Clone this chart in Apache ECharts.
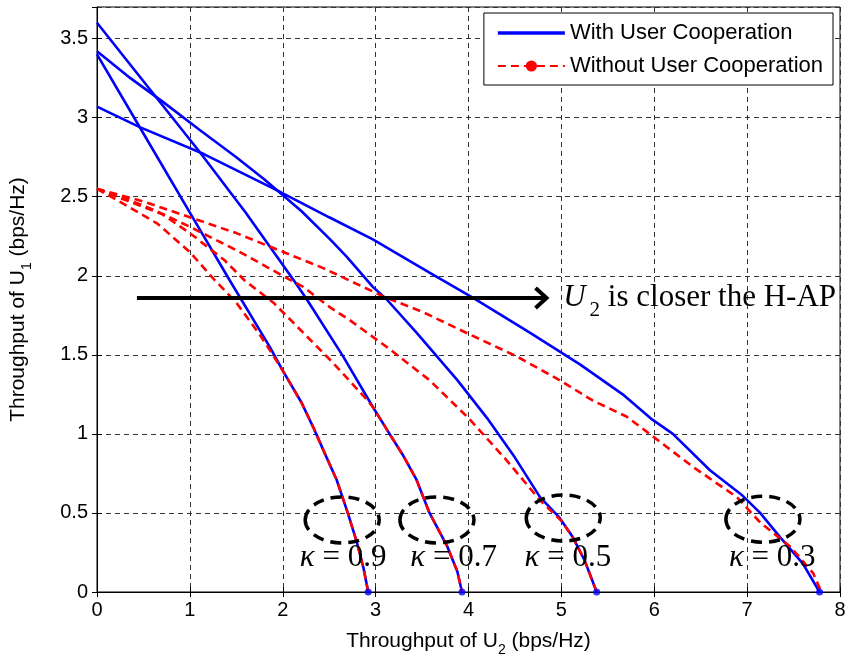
<!DOCTYPE html>
<html><head><meta charset="utf-8">
<script src="https://cdn.jsdelivr.net/npm/echarts@6/dist/echarts.min.js"></script>
<style>html,body{margin:0;padding:0;background:#fff}#c{width:847px;height:657px}</style>
</head><body><div id="c"></div>
<script>
// ---- data ----
const kappas = ['0.9', '0.7', '0.5', '0.3'];

const blue09x = [0, 0.5, 1, 1.43, 1.86, 2.0, 2.2, 2.33, 2.45, 2.58, 2.7, 2.8, 2.87, 2.92];
const blue09y = [3.4, 2.9, 2.4, 1.97, 1.55, 1.40, 1.2, 1.04, 0.88, 0.71, 0.5, 0.31, 0.15, 0];
const red09x  = [0, 0.3, 0.65, 1.0, 1.24, 1.5, 1.75, 1.86, 2.0, 2.2, 2.33, 2.45, 2.58, 2.7, 2.8, 2.87, 2.92];
const red09y  = [2.55, 2.45, 2.33, 2.15, 1.99, 1.83, 1.63, 1.53, 1.40, 1.2, 1.04, 0.88, 0.71, 0.5, 0.31, 0.15, 0];

const blue07x = [0, 0.5, 1.11, 1.6, 2.12, 2.26, 2.65, 2.97, 3.15, 3.3, 3.44, 3.58, 3.77, 3.88, 3.93];
const blue07y = [3.6, 3.23, 2.78, 2.4, 1.97, 1.85, 1.49, 1.17, 1.0, 0.86, 0.71, 0.5, 0.29, 0.13, 0];
const red07x  = [0, 0.3, 0.7, 1.0, 1.37, 1.59, 1.9, 2.22, 2.54, 2.9, 2.97, 3.15, 3.3, 3.44, 3.58, 3.77, 3.88, 3.93];
const red07y  = [2.55, 2.48, 2.39, 2.27, 2.10, 1.97, 1.83, 1.64, 1.45, 1.22, 1.17, 1.0, 0.86, 0.71, 0.5, 0.29, 0.13, 0];

const blue05x = [0, 0.36, 0.71, 1.11, 1.5, 1.8, 2.2, 2.51, 2.69, 2.97, 3.12, 3.44, 3.88, 4.2, 4.5, 4.77, 4.98, 5.12, 5.25, 5.38];
const blue05y = [3.42, 3.25, 3.1, 2.92, 2.75, 2.61, 2.41, 2.23, 2.12, 1.93, 1.85, 1.64, 1.34, 1.1, 0.85, 0.6, 0.47, 0.35, 0.2, 0];
const red05x  = [0, 0.3, 0.6, 1.0, 1.54, 2.0, 2.22, 2.51, 2.72, 3.12, 3.58, 4.0, 4.4, 4.77, 5.0, 5.12, 5.25, 5.38];
const red05y  = [2.55, 2.49, 2.42, 2.31, 2.15, 2.0, 1.93, 1.80, 1.72, 1.55, 1.34, 1.1, 0.84, 0.58, 0.45, 0.35, 0.2, 0];

const blue03x = [0, 0.46, 1.15, 1.94, 2.5, 2.97, 3.58, 4.05, 4.66, 5.2, 5.66, 5.98, 6.2, 6.6, 6.95, 7.14, 7.35, 7.6, 7.78];
const blue03y = [3.07, 2.94, 2.77, 2.54, 2.37, 2.23, 2.02, 1.86, 1.64, 1.44, 1.25, 1.09, 1.0, 0.77, 0.61, 0.50, 0.35, 0.18, 0];
const red03x  = [0, 0.5, 1, 1.5, 1.88, 2.43, 3.08, 3.51, 4.01, 4.52, 4.98, 5.34, 5.7, 5.95, 6.42, 6.89, 7.14, 7.46, 7.71, 7.8];
const red03y  = [2.55, 2.47, 2.37, 2.27, 2.18, 2.05, 1.87, 1.77, 1.63, 1.49, 1.34, 1.21, 1.11, 1.0, 0.79, 0.6, 0.44, 0.29, 0.12, 0];

const xTickValues = [0, 1, 2, 3, 4, 5, 6, 7, 8];
const yTickValues = [0, 0.5, 1, 1.5, 2, 2.5, 3, 3.5];

// annotation anchors (data coordinates)
const ellipseCentersX = [2.64, 3.66, 5.02, 7.17];
const ellipseCentersY = [0.456, 0.456, 0.468, 0.46];
const kappaLabelX = [2.65, 3.84, 5.07, 7.27];
const kappaLabelY = 0.215;
const arrowFromX = 0.43, arrowToX = 4.84, arrowY = 1.86;
const arrowTextX = 5.02;

// ---- build ----
const WITH = 'With User Cooperation';
const WITHOUT = 'Without User Cooperation';
const zip = (xs, ys) => xs.map((x, i) => [x, ys[i]]);
const blues = [[blue09x, blue09y], [blue07x, blue07y], [blue05x, blue05y], [blue03x, blue03y]];
const reds = [[red09x, red09y], [red07x, red07y], [red05x, red05y], [red03x, red03y]];

const SANS = 'Liberation Sans, Arial, sans-serif';
const SERIF = 'Liberation Serif, Times New Roman, serif';

const series = [];
blues.forEach(([xs, ys]) => series.push({
  name: WITH, type: 'line', data: zip(xs, ys), symbol: 'none',
  lineStyle: { color: '#0000ff', width: 2.6 }, itemStyle: { color: '#0000ff' }, z: 2
}));
reds.forEach(([xs, ys]) => series.push({
  name: WITHOUT, type: 'line', symbol: 'circle', symbolSize: 7,
  data: zip(xs, ys).map(p => ({ value: p, symbol: 'none' })),
  lineStyle: { color: '#ff0000', width: 2.6, type: [8, 5] }, itemStyle: { color: '#ff0000' }, z: 3
}));
series.push({
  name: 'ends', type: 'scatter', symbol: 'circle', symbolSize: 7,
  data: blues.map(([xs, ys]) => [xs[xs.length - 1], ys[ys.length - 1]]),
  itemStyle: { color: '#0000ff' }, z: 4
});

const nameRich = {
  a: { fontFamily: SANS, fontSize: 21, color: '#000' },
  b: { fontFamily: SANS, fontSize: 14, color: '#000', verticalAlign: 'bottom', lineHeight: 32 }
};

const option = {
  animation: false,
  backgroundColor: '#fff',
  grid: { left: 97, right: 7, top: 7, bottom: 65, outerBoundsMode: 'none', containLabel: false,
          show: true, borderColor: '#000', borderWidth: 1, backgroundColor: 'transparent' },
  legend: {
    data: [{ name: WITH, icon: 'path://M0,0H60V3H0Z' }, { name: WITHOUT }],
    orient: 'vertical', right: 14, top: 13,
    itemWidth: 67, itemHeight: 14, itemGap: 11, padding: [9, 10, 8, 13],
    backgroundColor: '#fff', borderColor: '#000', borderWidth: 1,
    textStyle: { fontFamily: SANS, fontSize: 22, lineHeight: 22, color: '#000' }
  },
  xAxis: [{
    type: 'value', min: xTickValues[0], max: xTickValues[xTickValues.length - 1], interval: 1,
    name: '{a|Throughput of U}{b|2}{a| (bps/Hz)}', nameLocation: 'middle', nameGap: 33,
    nameTextStyle: { rich: nameRich },
    axisLine: { lineStyle: { color: '#000', width: 1 } },
    axisTick: { inside: true, length: 5, lineStyle: { color: '#000' } },
    axisLabel: { fontFamily: SANS, fontSize: 20, color: '#000', margin: 8 },
    splitLine: { show: true, lineStyle: { color: '#333', type: [5, 4], width: 1 } }
  }, {
    type: 'value', position: 'top', min: 0, max: 8, interval: 1,
    axisLine: { lineStyle: { color: '#000' } },
    axisTick: { inside: true, length: 5, lineStyle: { color: '#000' } },
    axisLabel: { show: false }, splitLine: { show: false }
  }],
  yAxis: [{
    type: 'value', min: yTickValues[0], max: 3.7, interval: 0.5,
    name: '{a|Throughput of U}{b|1}{a| (bps/Hz)}', nameLocation: 'middle', nameGap: 63,
    nameTextStyle: { rich: nameRich },
    axisLine: { show: true, lineStyle: { color: '#000', width: 1 } },
    axisTick: { show: true, inside: true, length: 5, lineStyle: { color: '#000' } },
    axisLabel: { fontFamily: SANS, fontSize: 20, color: '#000', margin: 9, showMaxLabel: false },
    splitLine: { show: true, lineStyle: { color: '#333', type: [5, 4], width: 1 } }
  }, {
    type: 'value', position: 'right', min: 0, max: 3.7, interval: 0.5,
    axisLine: { show: true, lineStyle: { color: '#000' } },
    axisTick: { show: true, inside: true, length: 5, lineStyle: { color: '#000' } },
    axisLabel: { show: false }, splitLine: { show: false }
  }],
  series: series
};

const chart = echarts.init(document.getElementById('c'), null, { renderer: 'canvas' });
chart.setOption(option);

const px = (x, y) => chart.convertToPixel({ gridIndex: 0 }, [x, y]);
const graphics = [];
ellipseCentersX.forEach((cx, i) => {
  const p = px(cx, ellipseCentersY[i]);
  graphics.push({
    type: 'ellipse', shape: { cx: p[0], cy: p[1], rx: 37, ry: 23 },
    style: { fill: null, stroke: '#000', lineWidth: 3.5, lineDash: [11, 7] }, z: 10
  });
});
kappaLabelX.forEach((kx, i) => {
  const p = px(kx, kappaLabelY);
  graphics.push({
    type: 'text', x: p[0], y: p[1], z: 11,
    style: {
      text: '{k|κ}{n| = ' + kappas[i] + '}', align: 'center', verticalAlign: 'middle',
      rich: {
        k: { fontFamily: SERIF, fontStyle: 'italic', fontSize: 31, fill: '#000' },
        n: { fontFamily: SERIF, fontSize: 31, fill: '#000' }
      }
    }
  });
});
const a0 = px(arrowFromX, arrowY), a1 = px(arrowToX, arrowY);
graphics.push({ type: 'line', shape: { x1: a0[0], y1: a0[1], x2: a1[0] - 2, y2: a1[1] }, style: { stroke: '#000', lineWidth: 4 }, z: 12 });
graphics.push({ type: 'polyline', shape: { points: [[a1[0] - 11, a1[1] - 10], [a1[0], a1[1]], [a1[0] - 11, a1[1] + 10]] }, style: { stroke: '#000', lineWidth: 4, fill: null }, z: 12 });
const tp = px(arrowTextX, arrowY);
graphics.push({
  type: 'text', x: tp[0], y: tp[1], z: 12,
  style: {
    text: '{u|U}{s|2}{t| is closer the H-AP}', align: 'left', verticalAlign: 'middle',
    rich: {
      u: { fontFamily: SERIF, fontStyle: 'italic', fontSize: 31, fill: '#000' },
      s: { fontFamily: SERIF, fontSize: 21, fill: '#000', verticalAlign: 'bottom', lineHeight: 46, padding: [0, 0, 0, 4] },
      t: { fontFamily: SERIF, fontSize: 31, fill: '#000' }
    }
  }
});
chart.setOption({ graphic: graphics });
</script>
</body></html>
